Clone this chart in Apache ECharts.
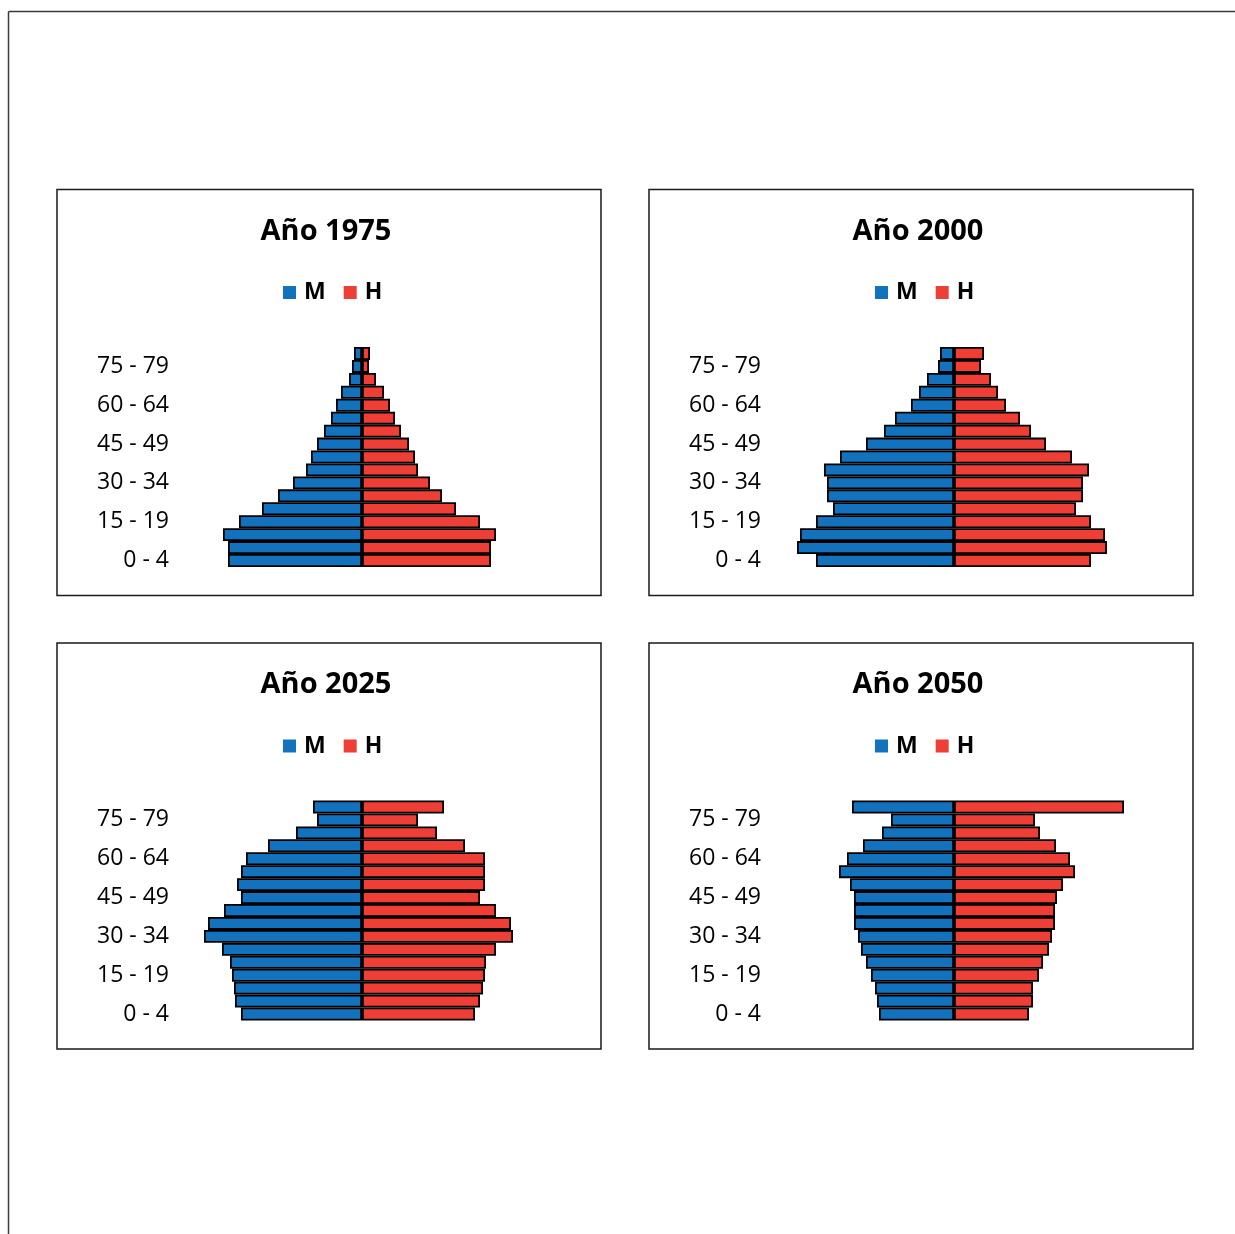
<!DOCTYPE html>
<html>
<head>
<meta charset="utf-8">
<script src="https://cdn.jsdelivr.net/npm/echarts@6/dist/echarts.min.js"></script>
<style>
  html, body { margin: 0; padding: 0; background: #fff; }
  #chart { width: 1235px; height: 1234px; }
</style>
</head>
<body>
<div id="chart"></div>
<script>
// Age groups (bottom to top)
var ages = ['0 - 4','5 - 9','10 - 14','15 - 19','20 - 24','25 - 29','30 - 34','35 - 39',
            '40 - 44','45 - 49','50 - 54','55 - 59','60 - 64','65 - 69','70 - 74','75 - 79','80 +'];
var years = ['Año 1975', 'Año 2000', 'Año 2025', 'Año 2050'];

// Mujeres (M) and Hombres (H), per age group
var m1975 = [134,134,139,123,100,84,69,56,51,45,38,31,26,21,13,10,8];
var h1975 = [129,129,134,118,94,80,68,56,53,47,39,33,28,22,14,7,8];
var m2000 = [138,157,154,138,121,127,127,130,114,88,70,59,43,35,27,16,14];
var h2000 = [137,153,151,137,122,129,129,135,118,92,77,66,52,44,37,27,30];
var m2025 = [121,127,128,130,132,140,158,154,138,121,125,121,116,94,66,45,49];
var h2025 = [113,118,121,123,124,134,151,149,134,118,123,123,123,103,75,56,82];
var m2050 = [75,77,79,83,88,93,96,100,100,100,104,115,107,91,72,63,102];
var h2050 = [75,79,79,85,89,95,98,101,101,103,109,121,116,102,86,81,170];

var mData = [m1975, m2000, m2025, m2050];
var hData = [h1975, h2000, h2025, h2050];

var BLUE = '#1272BE', RED = '#EF3E36';
var FONT = 'Open Sans';

// panel layout
var panels = [
  {x: 57, y: 189.5}, {x: 649, y: 189.5},
  {x: 57, y: 643}, {x: 649, y: 643}
];
var PW = 544, PH = 406;

var grids = [], xAxes = [], yAxes = [], series = [], titles = [], legends = [], graphics = [];

// outer frame (left and top lines)
graphics.push({type: 'line', shape: {x1: 8.5, y1: 11.5, x2: 8.5, y2: 1234}, style: {stroke: '#3a3a3a', lineWidth: 1.5}});
graphics.push({type: 'line', shape: {x1: 8.5, y1: 11.5, x2: 1235, y2: 11.5}, style: {stroke: '#3a3a3a', lineWidth: 1.5}});

panels.forEach(function (p, i) {
  var dx = p.x - 57, dy = p.y - 189.5;
  graphics.push({type: 'rect', shape: {x: p.x, y: p.y, width: PW, height: PH},
                 style: {fill: 'none', stroke: '#1a1a1a', lineWidth: 1.5}, z: 0});
  grids.push({left: 175 + dx, top: 347 + dy, width: 374, height: 220, containLabel: false});
  xAxes.push({type: 'value', gridIndex: i, min: -187, max: 187, show: false});
  yAxes.push({
    type: 'category', gridIndex: i, data: ages,
    axisLine: {show: false}, axisTick: {show: false}, splitLine: {show: false},
    axisLabel: {interval: 2, margin: 6, color: '#000', fontFamily: FONT, fontSize: 23, padding: [4, 0, 0, 0]}
  });
  titles.push({
    text: years[i], left: 321 + dx, top: 212 + dy, textAlign: 'center',
    textStyle: {fontFamily: FONT, fontWeight: 'bold', fontSize: 29, color: '#000'}
  });
  legends.push({
    data: ['M', 'H'], left: 283 + dx, top: 281 + dy, padding: 0,
    icon: 'rect', itemWidth: 13, itemHeight: 13, itemGap: 18,
    itemStyle: {borderWidth: 0},
    textStyle: {fontFamily: FONT, fontWeight: 'bold', fontSize: 23, color: '#000', padding: [0, 0, 0, 3]}
  });
  series.push({
    name: 'M', type: 'bar', xAxisIndex: i, yAxisIndex: i,
    data: mData[i].map(function (v) { return -v; }),
    barWidth: '100%', barGap: '-100%',
    itemStyle: {color: BLUE, borderColor: '#000', borderWidth: 1.8},
    animation: false
  });
  series.push({
    name: 'H', type: 'bar', xAxisIndex: i, yAxisIndex: i,
    data: hData[i],
    barWidth: '100%', barGap: '-100%',
    itemStyle: {color: RED, borderColor: '#000', borderWidth: 1.8},
    animation: false
  });
});

var chart = echarts.init(document.getElementById('chart'), null, {renderer: 'canvas'});
chart.setOption({
  backgroundColor: '#fff',
  animation: false,
  title: titles,
  legend: legends,
  grid: grids,
  xAxis: xAxes,
  yAxis: yAxes,
  series: series,
  graphic: graphics
});
</script>
</body>
</html>
